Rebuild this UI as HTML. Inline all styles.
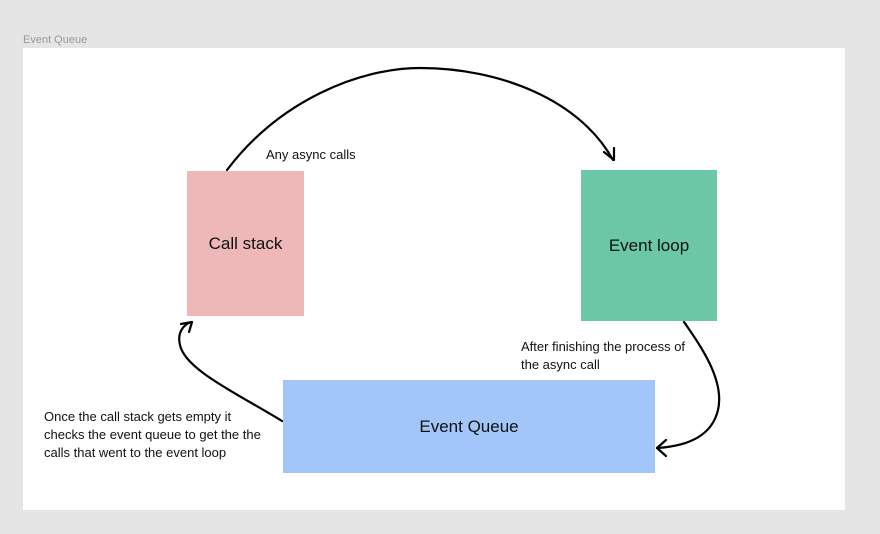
<!DOCTYPE html>
<html><head><style>
body{margin:0;width:880px;height:534px;background:#e5e5e5;position:relative;overflow:hidden;font-family:"Liberation Sans",sans-serif}
.t{position:absolute;color:#111;font-size:13px;line-height:18px}
.b{position:absolute;display:flex;align-items:center;justify-content:center;font-size:17px;color:#111}
</style></head><body>
<div style="position:absolute;left:23px;top:34px;font-size:11px;color:#999">Event Queue</div>
<div style="position:absolute;left:23px;top:48px;width:822px;height:462px;background:#fff"></div>
<div class="b" style="left:187px;top:171px;width:117px;height:145px;background:#eeb8b8">Call stack</div>
<div class="b" style="left:581px;top:170px;width:136px;height:151px;background:#6cc7a6">Event loop</div>
<div class="b" style="left:283px;top:380px;width:372px;height:93px;background:#a3c6fa">Event Queue</div>
<div class="t" style="left:266px;top:146px">Any async calls</div>
<div class="t" style="left:521px;top:338px">After finishing the process of<br>the async call</div>
<div class="t" style="left:44px;top:408px">Once the call stack gets empty it<br>checks the event queue to get the the<br>calls that went to the event loop</div>
<svg width="880" height="534" style="position:absolute;left:0;top:0" fill="none" stroke="#000" stroke-width="2.2" stroke-linecap="round" stroke-linejoin="round">
<path d="M227 170 C280 100 360 68 420 68 C500 68 580 100 613 160"/>
<path d="M604 152 L614 160 L614 148"/>
<path d="M684 322 C700 345 725 380 718 410 C712 435 690 446 657 448"/>
<path d="M666 440 L657 448 L666 456"/>
<path d="M282 421 C240 395 185 370 180 345 C177 333 183 325 191 322"/>
<path d="M181 324 L192 322 L189 332"/>
</svg>
</body></html>
